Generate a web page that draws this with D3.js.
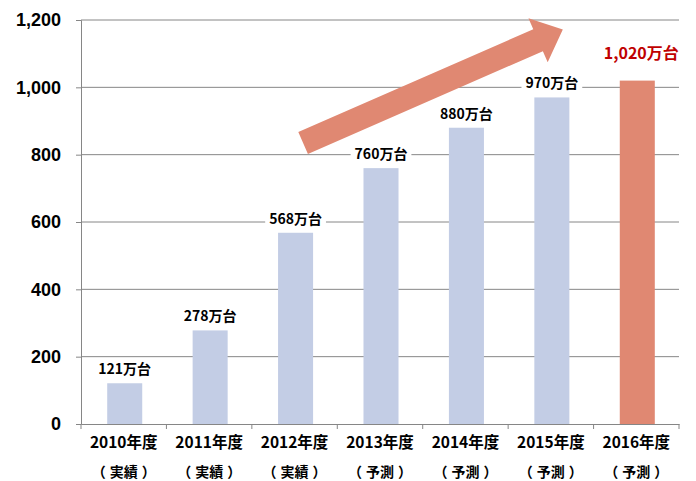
<!DOCTYPE html>
<html>
<head>
<meta charset="utf-8">
<script src="https://cdn.jsdelivr.net/npm/d3@7"></script>
<style>
  html, body { margin: 0; padding: 0; background: #fff; }
  svg { display: block; }
  text { font-family: "Liberation Sans", "Noto Sans CJK JP", sans-serif; font-weight: bold; }
</style>
</head>
<body>
<svg id="chart" width="696" height="481"></svg>
<script>
// Fiscal years and units (万台)
const years = ["2010年度", "2011年度", "2012年度", "2013年度", "2014年度", "2015年度", "2016年度"];
const notes = ["（実績）", "（実績）", "（実績）", "（予測）", "（予測）", "（予測）", "（予測）"];
const units = [121, 278, 568, 760, 880, 970, 1020];
const labels = ["121万台", "278万台", "568万台", "760万台", "880万台", "970万台", "1,020万台"];
const highlight = [false, false, false, false, false, false, true];
const yTicks = [0, 200, 400, 600, 800, 1000, 1200];

// Growth arrow: [category index position, value] for tail and tip
const arrowTail = [2.6, 835];
const arrowTip = [5.64, 1172];

const margin = { top: 20, right: 17, bottom: 57, left: 81 };
const width = 696, height = 481;
const plotW = width - margin.left - margin.right;
const plotH = height - margin.top - margin.bottom;

const svg = d3.select('#chart');
const g = svg.append('g').attr('transform', `translate(${margin.left},${margin.top})`);

const x = d3.scaleBand().domain(years).range([0, plotW]).padding(0);
const xPos = d3.scaleLinear().domain([0, years.length]).range([0, plotW]);
const y = d3.scaleLinear().domain([0, 1200]).range([plotH, 0]);

const barW = x.bandwidth() * 0.41;

// Gridlines
g.append('g')
  .selectAll('line')
  .data(yTicks.filter(d => d > 0))
  .join('line')
  .attr('x1', 0)
  .attr('x2', plotW)
  .attr('y1', d => y(d))
  .attr('y2', d => y(d))
  .attr('stroke', '#868686')
  .attr('stroke-width', 1);

// Y axis
const yAxis = g.append('g')
  .call(d3.axisLeft(y).tickValues(yTicks).tickSize(5).tickFormat(d3.format(',')).tickPadding(15));
yAxis.select('.domain').attr('stroke', '#868686');
yAxis.selectAll('.tick line').attr('stroke', '#868686');
yAxis.selectAll('.tick text')
  .attr('fill', '#000')
  .style('font-size', '18px')
  .style('font-family', '"Liberation Sans", sans-serif')
  .style('font-weight', 'bold');

// X axis
const xAxis = g.append('g')
  .attr('transform', `translate(0,${plotH})`)
  .call(d3.axisBottom(x).tickSize(0).tickFormat(''));
xAxis.select('.domain').attr('stroke', '#868686');

// category tick marks between bands
g.append('g')
  .selectAll('line')
  .data(d3.range(years.length + 1))
  .join('line')
  .attr('x1', d => xPos(d))
  .attr('x2', d => xPos(d))
  .attr('y1', plotH)
  .attr('y2', plotH + 5)
  .attr('stroke', '#868686');

const xLabels = g.append('g')
  .selectAll('g')
  .data(years)
  .join('g')
  .attr('transform', d => `translate(${x(d) + x.bandwidth() / 2},${plotH})`);

xLabels.append('text')
  .attr('y', 24)
  .attr('text-anchor', 'middle')
  .style('font-size', '15.5px')
  .style('font-family', '"Noto Sans CJK JP", sans-serif')
  .text(d => d);

// second line: parens set a little apart from the word
const noteText = xLabels.append('text')
  .attr('y', 53)
  .attr('x', 0)
  .attr('text-anchor', 'middle')
  .style('font-size', '14px')
  .style('font-family', '"Noto Sans CJK JP", sans-serif');
noteText.append('tspan').text((d, i) => notes[i].slice(0, 1));
noteText.append('tspan').attr('dx', 4).text((d, i) => notes[i].slice(1, -1));
noteText.append('tspan').attr('dx', 4).text((d, i) => notes[i].slice(-1));

// Bars
g.append('g')
  .selectAll('rect')
  .data(units)
  .join('rect')
  .attr('x', (d, i) => x(years[i]) + x.bandwidth() / 2 - barW / 2 + 1)
  .attr('y', d => y(d))
  .attr('width', barW)
  .attr('height', d => plotH - y(d))
  .attr('fill', (d, i) => highlight[i] ? '#E08872' : '#C3CDE5');

// Arrow (annotation)
const ax0 = xPos(arrowTail[0]), ay0 = y(arrowTail[1]);
const ax1 = xPos(arrowTip[0]), ay1 = y(arrowTip[1]);
const len = Math.hypot(ax1 - ax0, ay1 - ay0);
const ang = Math.atan2(ay1 - ay0, ax1 - ax0) * 180 / Math.PI;
const shaft = 12, head = 24, headLen = 27;
const arrowPts = [
  [0, -shaft], [len - headLen, -shaft], [len - headLen, -head],
  [len, 0],
  [len - headLen, head], [len - headLen, shaft], [0, shaft]
];
g.append('path')
  .attr('transform', `translate(${ax0},${ay0}) rotate(${ang})`)
  .attr('d', d3.line()(arrowPts) + 'Z')
  .attr('fill', '#E08872');

// Data labels
const lab = g.append('g')
  .selectAll('g')
  .data(units)
  .join('g')
  .attr('transform', (d, i) => `translate(${x(years[i]) + x.bandwidth() / 2 + (highlight[i] ? 5 : 1)},${y(d) - (highlight[i] ? 27 : 14)})`);

lab.append('text')
  .attr('text-anchor', 'middle')
  .attr('dy', '0.36em')
  .style('font-size', (d, i) => highlight[i] ? '16px' : '14px')
  .style('font-family', '"Noto Sans CJK JP", sans-serif')
  .attr('fill', (d, i) => highlight[i] ? '#C00000' : '#000')
  .text((d, i) => labels[i]);

lab.insert('rect', 'text')
  .each(function () {
    const t = d3.select(this.parentNode).select('text').node().getBBox();
    d3.select(this)
      .attr('x', t.x - 4)
      .attr('y', t.y)
      .attr('width', t.width + 8)
      .attr('height', t.height)
      .attr('fill', '#fff');
  });
lab.filter((d, i) => highlight[i]).select('rect').attr('fill', 'none');
</script>
</body>
</html>
